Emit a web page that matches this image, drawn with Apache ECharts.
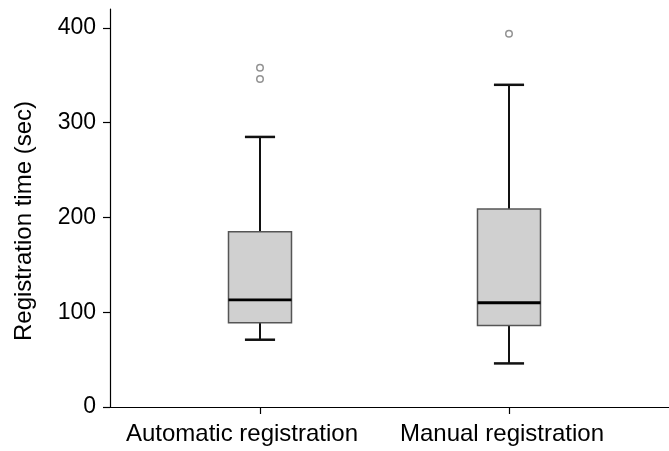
<!DOCTYPE html>
<html>
<head>
<meta charset="utf-8">
<script src="https://cdn.jsdelivr.net/npm/echarts@6/dist/echarts.min.js"></script>
<style>html,body{margin:0;padding:0;background:#fff}#c{width:669px;height:451px}</style>
</head>
<body>
<div id="c"></div>
<script>
const categories = ['Automatic registration', 'Manual registration'];
// [lower whisker, Q1, median, Q3, upper whisker]
const boxStats = [
  [71, 89, 113, 185, 285],
  [46, 86, 110, 209, 340]
];
// outliers: [category index, value]
const outliers = [
  [0, 358],
  [0, 346],
  [1, 394]
];
const yTicks = [0, 100, 200, 300, 400];

const FONT = 'Liberation Sans, Arial, Helvetica, sans-serif';
const boxData = boxStats.map((s, i) => [i + 1].concat(s));
const outlierData = outliers.map(o => [o[0] + 1, o[1]]);

const chart = echarts.init(document.getElementById('c'), null, {renderer: 'canvas'});
chart.setOption({
  animation: false,
  backgroundColor: '#fff',
  grid: {left: 110, right: 0, top: 9, bottom: 44},
  xAxis: {
    type: 'value',
    min: 0.3976, max: 2.6426,
    splitLine: {show: false},
    axisLine: {show: true, onZero: false, lineStyle: {color: '#000', width: 1.2}},
    axisTick: {show: true, customValues: [1, 2], length: 7, lineStyle: {color: '#000', width: 1.2}},
    axisLabel: {
      customValues: [1, 2], margin: 15, color: '#000', fontFamily: FONT, fontSize: 24,
      formatter: v => {
        const i = Math.round(v) - 1;
        return i === 0 ? '{a|' + categories[0] + '}' : '{b|' + categories[1] + '}';
      },
      rich: {
        a: {fontFamily: FONT, fontSize: 24, color: '#000', padding: [0, 36, 0, 0]},
        b: {fontFamily: FONT, fontSize: 24, color: '#000', padding: [0, 14, 0, 0]}
      }
    }
  },
  yAxis: {
    type: 'value',
    min: 0, max: 420,
    name: 'Registration time (sec)',
    nameLocation: 'middle',
    nameGap: 74,
    nameTextStyle: {fontFamily: FONT, fontSize: 24, color: '#000', padding: [0, 26, 0, 0]},
    splitLine: {show: false},
    axisLine: {show: true, lineStyle: {color: '#000', width: 1.2}},
    axisTick: {show: true, customValues: yTicks, length: 7, lineStyle: {color: '#000', width: 1.2}},
    axisLabel: {customValues: yTicks, margin: 14, color: '#000', fontFamily: FONT, fontSize: 23}
  },
  series: [
    {
      type: 'custom',
      data: boxData,
      encode: {x: 0, y: [1, 2, 3, 4, 5]},
      renderItem: function (params, api) {
        const x = api.value(0);
        const lo = api.coord([x, api.value(1)]);
        const q1 = api.coord([x, api.value(2)]);
        const med = api.coord([x, api.value(3)]);
        const q3 = api.coord([x, api.value(4)]);
        const hi = api.coord([x, api.value(5)]);
        const bw = api.size([0.253, 0])[0];
        const cw = api.size([0.121, 0])[0];
        const cx = lo[0];
        const wStyle = {stroke: '#111', lineWidth: 2};
        return {
          type: 'group',
          children: [
            {type: 'line', shape: {x1: cx, y1: q3[1], x2: cx, y2: hi[1]}, style: wStyle},
            {type: 'line', shape: {x1: cx, y1: lo[1], x2: cx, y2: q1[1]}, style: wStyle},
            {type: 'line', shape: {x1: cx - cw / 2, y1: hi[1], x2: cx + cw / 2, y2: hi[1]}, style: {stroke: '#111', lineWidth: 2.5}},
            {type: 'line', shape: {x1: cx - cw / 2, y1: lo[1], x2: cx + cw / 2, y2: lo[1]}, style: {stroke: '#111', lineWidth: 2.5}},
            {type: 'rect', shape: {x: cx - bw / 2, y: q3[1], width: bw, height: q1[1] - q3[1]},
             style: {fill: '#d0d0d0', stroke: '#555', lineWidth: 1.5}},
            {type: 'line', shape: {x1: cx - bw / 2, y1: med[1], x2: cx + bw / 2, y2: med[1]}, style: {stroke: '#000', lineWidth: 2.8}}
          ]
        };
      }
    },
    {
      type: 'scatter',
      data: outlierData,
      symbol: 'circle',
      symbolSize: 6.5,
      itemStyle: {color: '#fff', borderColor: '#777', borderWidth: 1.5}
    }
  ]
});
</script>
</body>
</html>
